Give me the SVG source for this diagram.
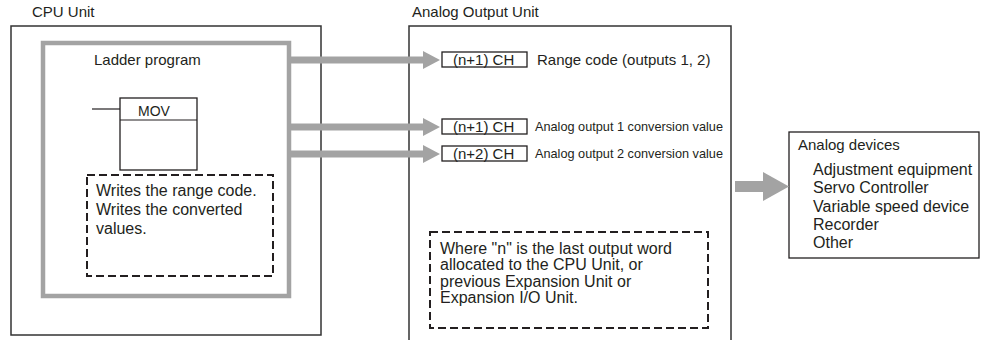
<svg xmlns="http://www.w3.org/2000/svg" width="981" height="340" viewBox="0 0 981 340">
<style>
text{font-family:"Liberation Sans",Arial,Helvetica,sans-serif;fill:#231f20}
.t15{font-size:15px}
.t16{font-size:16px}
.unit{fill:#fff;stroke:#333;stroke-width:1.5}
.box{fill:#fff;stroke:#231f20;stroke-width:1.3}
.dash{fill:none;stroke:#231f20;stroke-width:2;stroke-dasharray:8 4}
.gray{fill:none;stroke:#a3a3a3;stroke-width:4.5}
.shaft{stroke:#a3a3a3;stroke-width:7;fill:none}
.head{fill:#a3a3a3}
.ln{stroke:#231f20;stroke-width:1.2;fill:none}
</style>
<rect width="981" height="340" fill="#fff"/>

<g id="cpu-unit">
<text class="t15" x="32" y="17">CPU Unit</text>
<rect class="unit" x="11" y="26" width="310" height="309"/>
</g>

<g id="analog-output-unit">
<text class="t15" x="412" y="17">Analog Output Unit</text>
<rect class="unit" x="409" y="26" width="322" height="320"/>
</g>

<g id="ladder-program">
<rect class="gray" x="43" y="43" width="246" height="253"/>
<text class="t15" x="94" y="65">Ladder program</text>
</g>

<g id="mov">
<line class="ln" x1="92" y1="109" x2="120" y2="109"/>
<rect class="box" x="120" y="98" width="77" height="72"/>
<line class="ln" x1="120" y1="120" x2="197" y2="120"/>
<text x="138" y="116" style="font-size:14px">MOV</text>
</g>

<g id="note-writes">
<rect class="dash" x="87" y="175" width="186" height="101"/>
<text class="t16" x="96" y="196">Writes the range code.</text>
<text class="t16" x="96" y="215">Writes the converted</text>
<text class="t16" x="96" y="234">values.</text>
</g>

<g id="ch1-range">
<rect class="box" x="442" y="52" width="85" height="15"/>
<text class="t15" x="453" y="65">(n+1) CH</text>
<text class="t15" x="537" y="65">Range code (outputs 1, 2)</text>
</g>

<g id="ch1-output">
<rect class="box" x="442" y="119" width="85" height="15"/>
<text class="t15" x="453" y="132">(n+1) CH</text>
<text x="535" y="131" style="font-size:13px" textLength="188" lengthAdjust="spacingAndGlyphs">Analog output 1 conversion value</text>
</g>

<g id="ch2-output">
<rect class="box" x="442" y="146" width="85" height="15"/>
<text class="t15" x="453" y="159">(n+2) CH</text>
<text x="535" y="158" style="font-size:13px" textLength="188" lengthAdjust="spacingAndGlyphs">Analog output 2 conversion value</text>
</g>

<g id="note-n">
<rect class="dash" x="430" y="232" width="278" height="96"/>
<text class="t16" x="440" y="254">Where "n" is the last output word</text>
<text class="t16" x="440" y="270">allocated to the CPU Unit, or</text>
<text class="t16" x="440" y="287">previous Expansion Unit or</text>
<text class="t16" x="440" y="303">Expansion I/O Unit.</text>
</g>

<g id="analog-devices">
<rect class="box" x="789" y="132" width="190" height="126"/>
<text class="t15" x="798" y="150">Analog devices</text>
<text class="t16" x="813" y="175">Adjustment equipment</text>
<text class="t16" x="813" y="193">Servo Controller</text>
<text class="t16" x="813" y="212">Variable speed device</text>
<text class="t16" x="813" y="230">Recorder</text>
<text class="t16" x="813" y="248">Other</text>
</g>

<g id="connectors">
<line class="shaft" x1="291" y1="60" x2="425" y2="60"/>
<polygon class="head" points="423,51 440,60 423,69"/>
<line class="shaft" x1="291" y1="127" x2="425" y2="127"/>
<polygon class="head" points="423,118 440,127 423,136"/>
<line class="shaft" x1="291" y1="154" x2="425" y2="154"/>
<polygon class="head" points="423,145 440,154 423,163"/>
<rect class="head" x="735" y="181" width="29" height="11"/>
<polygon class="head" points="763,172 789,186.5 763,201"/>
</g>
</svg>
